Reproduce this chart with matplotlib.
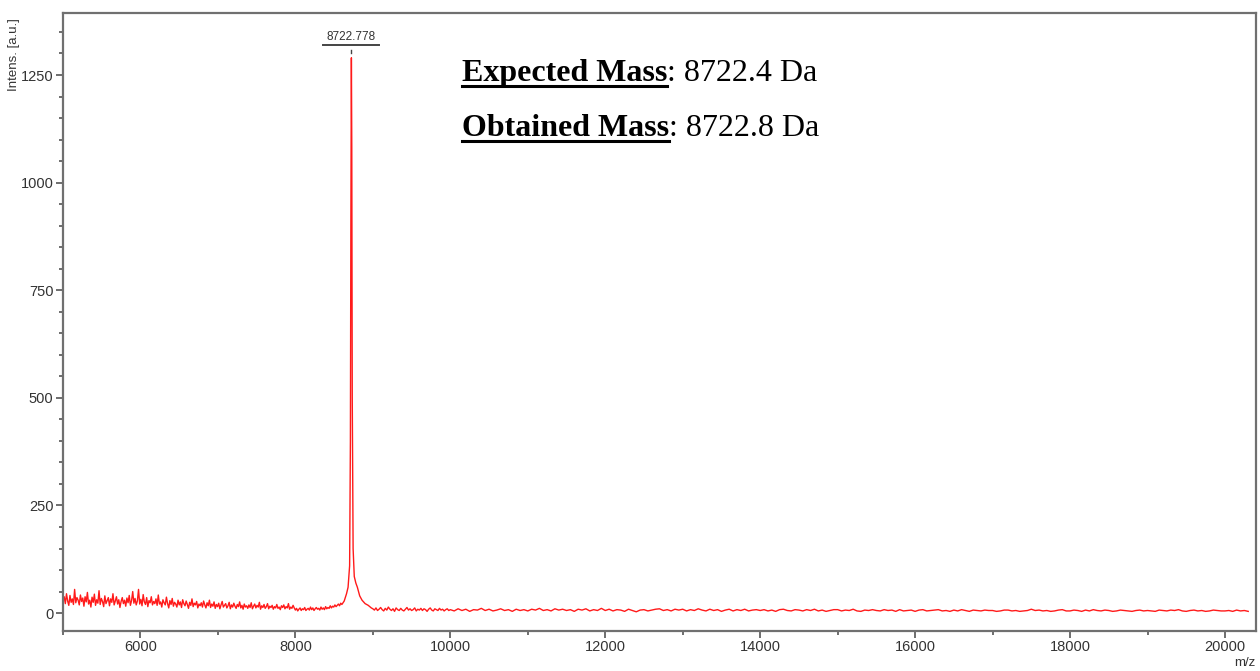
import numpy as np
import matplotlib
matplotlib.use("Agg")
import matplotlib.pyplot as plt
from matplotlib.lines import Line2D
from matplotlib.ticker import MultipleLocator

# baseline noise, 5000-8585 m/z every 15 Da
noise_low = [30, 38, 22, 45, 28, 18, 41, 25, 33, 20, 55, 24, 36, 30, 19, 42, 27, 35, 16, 38,
             26, 48, 21, 30, 14, 37, 25, 44, 18, 31, 23, 52, 20, 34, 27, 15, 40, 22, 29, 36,
             17, 33, 25, 45, 19, 28, 38, 21, 31, 13, 27, 36, 22, 30, 16, 35, 24, 41, 18, 29,
             50, 23, 34, 19, 28, 55, 21, 32, 17, 43, 26, 20, 36, 15, 29, 24, 38, 19, 27, 22,
             33, 18, 42, 21, 26, 14, 31, 24, 19, 37, 22, 12, 29, 20, 34, 16, 25, 21, 14, 30,
             19, 26, 13, 31, 22, 17, 28, 20, 11, 25, 18, 33, 15, 23, 19, 27, 12, 21, 17, 24,
             14, 28, 19, 12, 24, 17, 30, 13, 21, 16, 26, 11, 20, 15, 23, 10, 19, 27, 14, 18,
             22, 12, 17, 25, 10, 19, 14, 23, 16, 11, 20, 15, 26, 12, 18, 9, 21, 14, 17, 11,
             19, 13, 24, 10, 16, 21, 12, 18, 14, 25, 9, 17, 13, 20, 11, 15, 22, 10, 16, 13,
             18, 9, 15, 12, 20, 11, 14, 8, 17, 13, 19, 10, 15, 12, 22, 9, 14, 11, 18, 12,
             7, 11, 5, 9, 12, 6, 10, 8, 13, 6, 9, 11, 7, 14, 8, 12, 6, 10, 13, 9,
             11, 7, 14, 9, 12, 8, 15, 10, 13, 11, 17, 12, 16, 14, 19, 15, 18, 21, 17, 23]

# the peak itself
peak_mz = [8600, 8630, 8660, 8680, 8700, 8710, 8716, 8722.778, 8728, 8734, 8745, 8760,
           8780, 8800, 8830, 8860, 8900, 8940, 8980]
peak_int = [20, 28, 45, 60, 110, 400, 900, 1290, 1080, 500, 150, 85, 70, 60, 40, 30, 22, 18, 12]

# after the peak, 9000-9980 every 20 Da
noise_mid = [10, 7, 12, 6, 9, 13, 8, 5, 11, 7, 14, 9, 6, 10, 4, 12, 8, 6, 11, 7,
             5, 9, 13, 7, 10, 6, 8, 12, 5, 9, 7, 11, 6, 10, 8, 4, 9, 12, 7, 5,
             10, 8, 6, 11, 7, 9, 5, 8, 10, 6]

# flat tail, 10000-20300 every 50 Da
noise_high = [8, 5, 10, 6, 9, 4, 8, 7, 11, 6,
              9, 5, 7, 10, 6, 8, 4, 9, 6, 8,
              5, 9, 7, 11, 6, 8, 5, 10, 7, 9,
              6, 8, 4, 9, 7, 10, 5, 8, 6, 11,
              6, 9, 5, 8, 7, 4, 9, 6, 3, 7,
              8, 5, 7, 9, 10, 6, 8, 5, 9, 7,
              9, 5, 8, 6, 10, 7, 5, 9, 6, 8,
              4, 7, 9, 5, 8, 6, 9, 5, 7, 8,
              6, 8, 5, 7, 4, 8, 9, 6, 5, 8,
              7, 5, 8, 6, 9, 5, 7, 4, 6, 8,
              8, 5, 7, 6, 9, 5, 4, 7, 6, 8,
              6, 5, 8, 6, 7, 4, 8, 5, 6, 7,
              4, 7, 8, 5, 6, 7, 8, 5, 6, 4,
              7, 5, 8, 6, 4, 7, 6, 5, 7, 6,
              6, 4, 5, 7, 7, 5, 6, 4, 5, 6,
              9, 6, 7, 5, 6, 4, 5, 7, 8, 5,
              5, 7, 6, 4, 7, 5, 8, 6, 5, 7,
              6, 4, 5, 7, 6, 5, 4, 6, 7, 5,
              6, 5, 4, 7, 6, 5, 7, 6, 8, 5,
              4, 6, 7, 5, 6, 4, 5, 7, 6, 5,
              5, 6, 4, 7, 5, 6, 4]

peak_label = "8722.778"
expected = 8722.4
obtained = 8722.8

mz = np.concatenate([5000 + 15 * np.arange(len(noise_low)),
                     peak_mz,
                     9000 + 20 * np.arange(len(noise_mid)),
                     10000 + 50 * np.arange(len(noise_high))])
intens = np.concatenate([noise_low, peak_int, noise_mid, noise_high])

plt.rcParams['font.family'] = ['Liberation Sans', 'DejaVu Sans']

fig = plt.figure(figsize=(12.6, 6.71), dpi=100)
ax = fig.add_axes([0.05, 0.06, 0.9468, 0.9206])

ax.plot(mz, intens, color='#ff1a1a', lw=1.0)

ax.set_xlim(5000, 20400)
ax.set_ylim(-41, 1394)
ax.xaxis.set_major_locator(MultipleLocator(2000))
ax.xaxis.set_minor_locator(MultipleLocator(1000))
ax.yaxis.set_major_locator(MultipleLocator(250))
ax.yaxis.set_minor_locator(MultipleLocator(50))
ax.tick_params(which='both', direction='out', colors='#555555', labelcolor='#333333',
               labelsize=10.5, width=1.2)
ax.tick_params(which='major', length=5, pad=2)
ax.tick_params(which='minor', length=3)
for s in ax.spines.values():
    s.set_color('#707070')
    s.set_linewidth(1.6)

# peak label with the bar under it
ipk = int(np.argmax(peak_int))
px, py = peak_mz[ipk], peak_int[ipk]
ax.text(px, py + 48, peak_label, ha='center', va='center', fontsize=8.5, color='#333333')
ax.plot([px - 360, px + 360], [py + 30, py + 30], color='#444444', lw=1.4)
ax.plot([px, px], [py + 12, py + 18], color='#444444', lw=1)

fig.text(14 / 1260, 1 - 55 / 671, "Intens. [a.u.]", rotation=90, ha='center', va='center',
         fontsize=9.5, color='#333333')
fig.text(1245 / 1260, 1 - 663 / 671, "m/z", ha='center', va='center', fontsize=9.5, color='#333333')

# mass boxes, bold underlined heading then regular value
fig.canvas.draw()
r = fig.canvas.get_renderer()
for i, (head, val) in enumerate([("Expected Mass", expected), ("Obtained Mass", obtained)]):
    yb = 1 - (81 + 55 * i) / 671
    t1 = fig.text(462 / 1260, yb, head, fontsize=23, fontweight='bold',
                  family='Liberation Serif', va='baseline')
    bb = t1.get_window_extent(r)
    fig.text(bb.x1 / 1260, yb, f": {val} Da", fontsize=23, family='Liberation Serif',
             va='baseline')
    yu = yb - 5 / 671
    fig.add_artist(Line2D([bb.x0 / 1260, bb.x1 / 1260], [yu, yu], color='black', lw=2.2))

fig.savefig("out.png", dpi=100)
